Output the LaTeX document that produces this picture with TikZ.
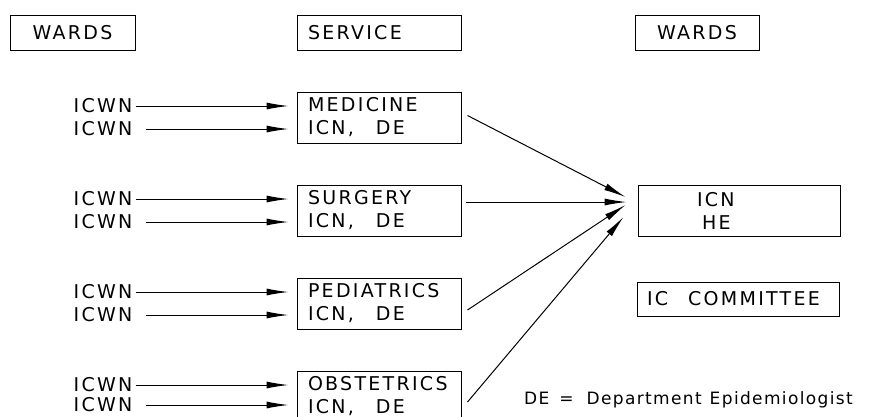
\documentclass[tikz,border=0pt]{standalone}
\usepackage{fontspec}
\setmainfont{DejaVu Sans}[LetterSpace=12]
\usetikzlibrary{arrows.meta, positioning}
\tikzset{
    box/.style = {rectangle, draw, line width=1pt, inner sep=0pt},
    head/.style = {box, minimum height=35pt},
    svc/.style = {box, align=left, text width=142pt, inner xsep=11pt, minimum height=51pt},
    side/.style = {box, align=left, text width=202pt},
    lbl/.style = {inner sep=0pt},
    wire/.style = {line width=1pt, -{Latex[length=22pt, width=7pt]}}
}
\newcommand{\gapde}{ICN,\hspace{22pt}DE}

\begin{document}
\begin{tikzpicture}[x=1pt, y=-1pt, node distance=93pt, font=\fontsize{19pt}{23pt}\selectfont]
        \useasboundingbox (0,0) rectangle (872,416);

        % Headings
        \node [head, minimum width=125pt] (wardsL) at (72.5,32.5) {WARDS};
        \node [svc, minimum height=35pt] (service) at (379,32.5) {SERVICE};
        \node [head, minimum width=124pt] (wardsR) at (697,32.5) {WARDS};

        % Services
        \node [svc] (medicine) at (379,117.5) {MEDICINE\\\gapde};
        \node [svc, below of=medicine] (surgery) {SURGERY\\\gapde};
        \node [svc, below of=surgery] (pediatrics) {PEDIATRICS\\\gapde};
        \node [svc, below of=pediatrics] (obstetrics) {OBSTETRICS\\\gapde};

        % Hospital level
        \node [side, minimum height=51pt] (icnhe) at (739,210.5) {\hspace*{59pt}ICN\\\hspace*{64pt}HE};
        \node [side, minimum height=34pt] (committee) at (738,299) {\hspace*{10pt}IC\hspace{20pt}COMMITTEE};

        % Ward nurses
        \node [lbl] (wm1) at (103,106) {ICWN};
        \node [lbl] (wm2) at (103,129) {ICWN};
        \node [lbl] (ws1) at (103,199) {ICWN};
        \node [lbl] (ws2) at (103,222) {ICWN};
        \node [lbl] (wp1) at (103,292) {ICWN};
        \node [lbl] (wp2) at (103,315) {ICWN};
        \node [lbl] (wo1) at (103,385) {ICWN};
        \node [lbl] (wo2) at (103,405) {ICWN};

        % Edges
        \draw [wire, shorten <=3pt, shorten >=8pt] (wm1) -- (wm1 -| medicine.west);
        \draw [wire, shorten <=13pt, shorten >=8pt] (wm2) -- (wm2 -| medicine.west);
        \draw [wire, shorten <=3pt, shorten >=8pt] (ws1) -- (ws1 -| surgery.west);
        \draw [wire, shorten <=13pt, shorten >=8pt] (ws2) -- (ws2 -| surgery.west);
        \draw [wire, shorten <=3pt, shorten >=8pt] (wp1) -- (wp1 -| pediatrics.west);
        \draw [wire, shorten <=13pt, shorten >=8pt] (wp2) -- (wp2 -| pediatrics.west);
        \draw [wire, shorten <=3pt, shorten >=8pt] (wo1) -- (wo1 -| obstetrics.west);
        \draw [wire, shorten <=13pt, shorten >=8pt] (wo2) -- (wo2 -| obstetrics.west);

        \draw [wire] ([shift={(6,-2)}]medicine.east) -- ([shift={(-12,-13.5)}]icnhe.west);
        \draw [wire] ([shift={(4,-8.5)}]surgery.east) -- ([shift={(-11,-8.5)}]icnhe.west);
        \draw [wire] ([shift={(6,6.5)}]pediatrics.east) -- ([shift={(-12,-5.5)}]icnhe.west);
        \draw [wire] ([shift={(6,5.5)}]obstetrics.east) -- ([shift={(-14,6.5)}]icnhe.west);

        % Legend
        \node [lbl, anchor=west, font=\fontsize{17pt}{20pt}\selectfont\addfontfeatures{LetterSpace=8}] (legend) at (524,400) {DE\hspace{10pt}=\hspace{13pt}Department\hspace{8pt}Epidemiologist};

    \end{tikzpicture}
\end{document}
